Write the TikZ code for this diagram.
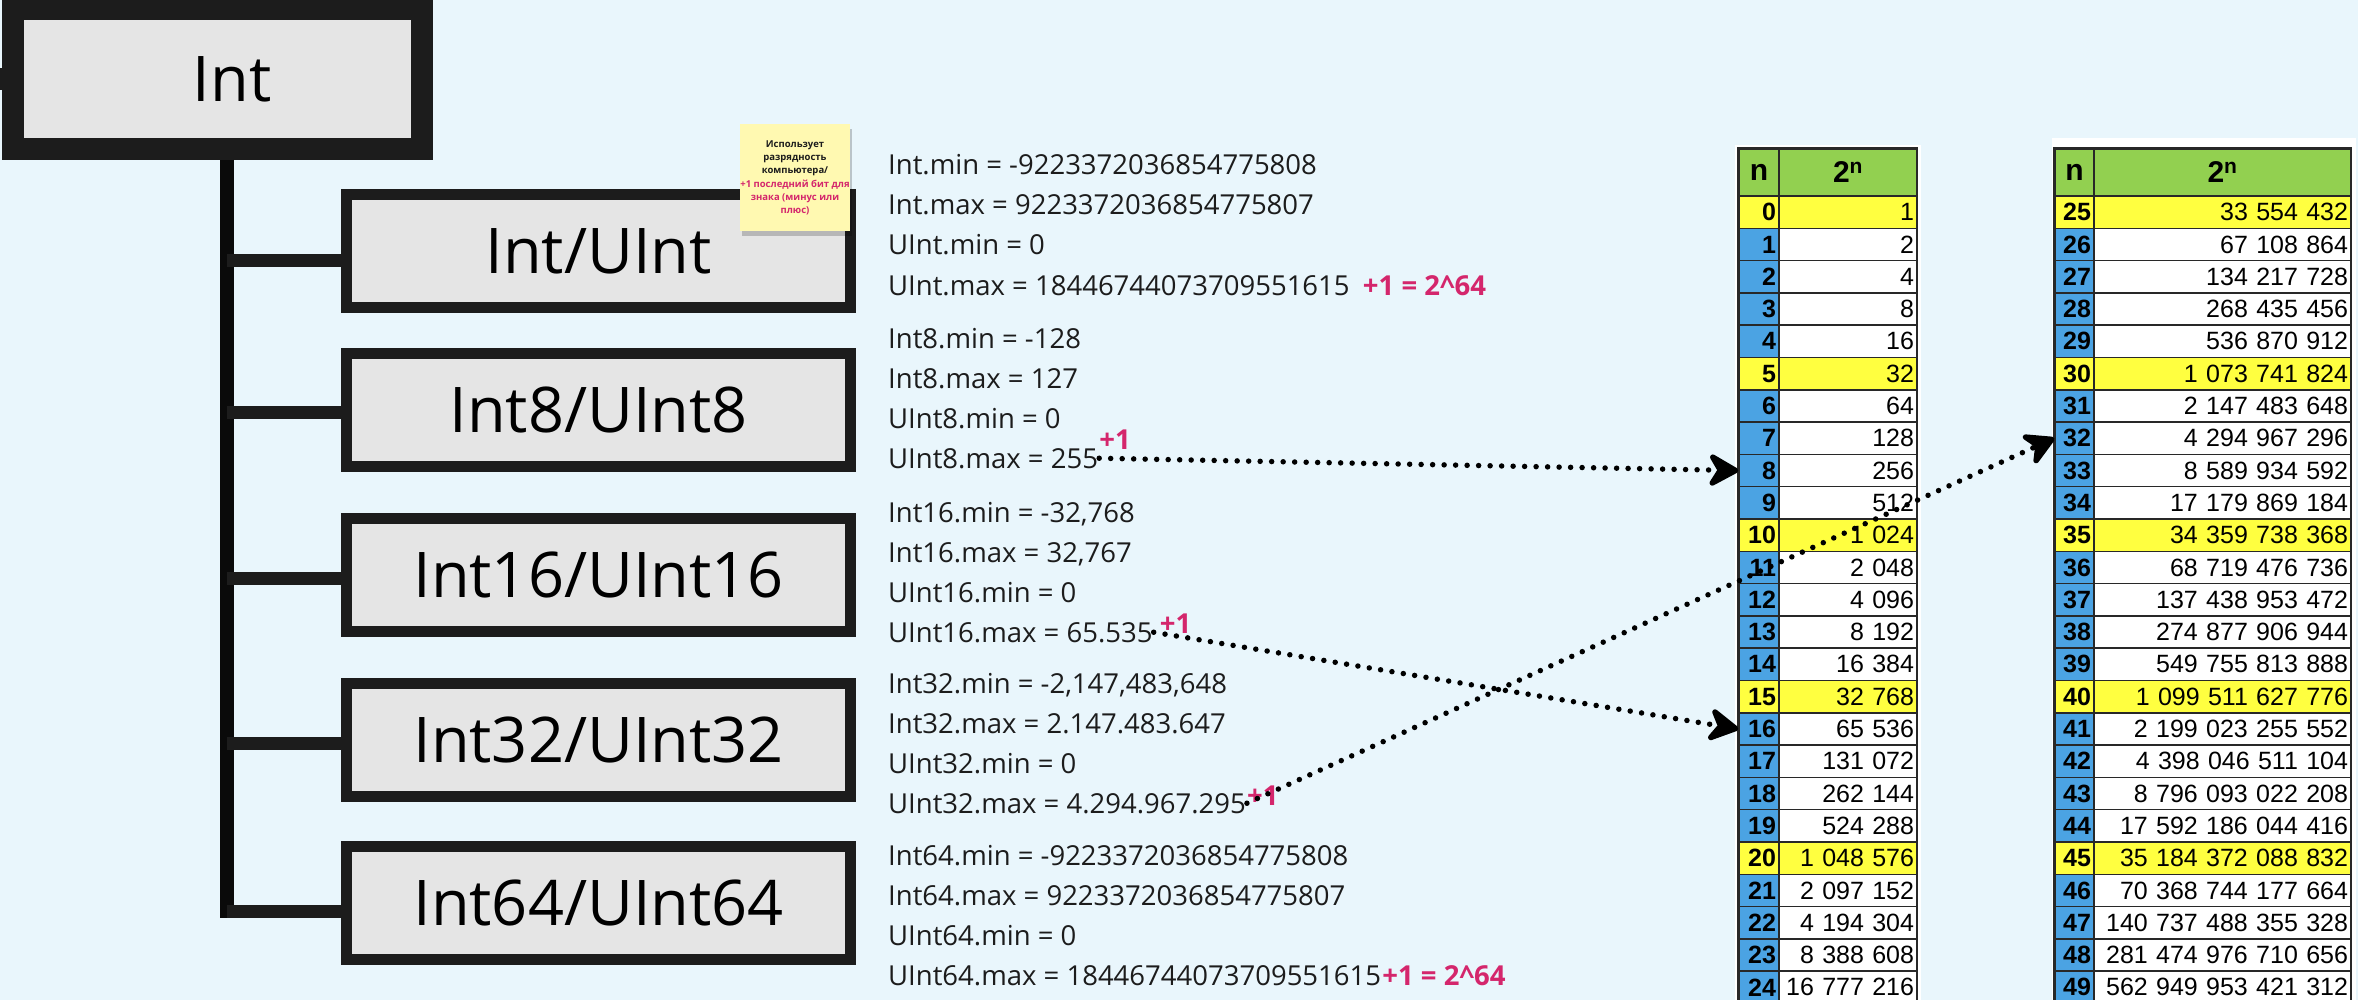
\documentclass[tikz,border=0pt]{standalone}
\usepackage{fontspec}
\setmainfont{Open Sans}
\newfontfamily\tabfont{Liberation Sans}
\usetikzlibrary{arrows.meta,calc,shadows}

\definecolor{bgc}{RGB}{233,246,252}
\definecolor{boxfill}{RGB}{229,229,229}
\definecolor{boxline}{RGB}{28,28,28}
\definecolor{plus}{RGB}{212,38,108}
\definecolor{note}{RGB}{255,249,177}
\definecolor{hgreen}{RGB}{146,208,80}
\definecolor{nblue}{RGB}{75,163,227}
\definecolor{ylw}{RGB}{255,255,64}
\definecolor{tabline}{RGB}{40,40,40}

\begin{document}
\begin{tikzpicture}[x=1pt,y=-1pt,
  root/.style={draw=boxline,fill=boxfill,line width=22pt,minimum width=409pt,
    minimum height=140pt,inner sep=0pt,font=\fontsize{63}{70}\selectfont},
  kind/.style={draw=boxline,fill=boxfill,line width=11pt,minimum width=504pt,
    minimum height=113pt,inner sep=0pt,font=\fontsize{63}{70}\selectfont},
  trunk/.style={draw=black!96,line width=14pt},
  branch/.style={draw=boxline,line width=13pt},
  vals/.style={anchor=base west,inner sep=1pt,text=boxline,font=\fontsize{27.5}{32}\selectfont},
  plusone/.style={anchor=base west,inner sep=0pt,text=plus,font=\bfseries\fontsize{27.5}{32}\selectfont},
  sticky/.style={fill=note,minimum width=106pt,minimum height=107pt,align=center,
    inner sep=0pt,font=\bfseries\fontsize{9.5}{13.3}\selectfont,
    drop shadow={shadow xshift=2pt,shadow yshift=-5pt,opacity=.2,fill=black}},
  hcell/.style={draw=tabline,fill=hgreen,line width=1.5pt,minimum height=47pt,
    inner sep=0pt,font=\tabfont\bfseries\fontsize{30}{34}\selectfont},
  ncol/.style={draw=tabline,line width=1.5pt,minimum height=32.3pt,inner xsep=3pt,
    inner ysep=0pt,align=right,font=\tabfont\bfseries\fontsize{25}{30}\selectfont},
  vcol/.style={draw=tabline,line width=1.5pt,minimum height=32.3pt,inner xsep=3pt,
    inner ysep=0pt,align=right,font=\tabfont\fontsize{25}{30}\selectfont},
  carry/.style={line width=5.5pt,dash pattern=on 0pt off 11.5pt,line cap=round,
    -{Stealth[length=36pt,width=40pt,inset=12pt,round]}}]

  \useasboundingbox (0,0) rectangle (2358,1000);
  \fill[bgc] (0,0) rectangle (2358,1000);

  % tree
  \node[root] (int) at (217.5,79) {\hspace*{29pt}Int};
  \draw[boxline,line width=22pt] (int.west) -- ++(-10,0);
  \node[kind] (u) at (598.5,251) {Int/UInt};
  \node[kind] (u8) at (598.5,409.5) {Int8/UInt8};
  \node[kind] (u16) at (598.5,574.5) {Int16/UInt16};
  \node[kind] (u32) at (598.5,739.5) {Int32/UInt32};
  \node[kind] (u64) at (598.5,902.5) {Int64/UInt64};
  \coordinate (tb) at (227,918);
  \draw[trunk] (int.south -| tb) -- (tb);
  \foreach \b/\dy in {u/9.5,u8/2.5,u16/3.5,u32/3.5,u64/8.5}
    \draw[branch] ($(tb |- \b.west)+(0,\dy)$) -- ($(\b.west)+(0,\dy)$);

  \node[sticky] (memo) at (795,178) {\textcolor{boxline}{Использует}\\
    \textcolor{boxline}{разрядность}\\\textcolor{boxline}{компьютера/}\\
    \textcolor{plus}{+1 последний бит для}\\\textcolor{plus}{знака (минус или}\\
    \textcolor{plus}{плюс)}};

  % ranges
  \node[vals] (imin) at (887,175) {Int.min = -9223372036854775808};
  \node[vals] (imax) at (887,215) {Int.max = 9223372036854775807};
  \node[vals] (umin) at (887,255) {UInt.min = 0};
  \node[vals] (umax) at (887,295) {UInt.max = 18446744073709551615};
  \node[plusone] (p0) at ([xshift=12pt]umax.base east) {+1 = 2\textasciicircum64};

  \node[vals] (i8min) at (887,348) {Int8.min = -128};
  \node[vals] (i8max) at (887,388) {Int8.max = 127};
  \node[vals] (u8min) at (887,428) {UInt8.min = 0};
  \node[vals] (u8max) at (887,468) {UInt8.max = 255};
  \node[plusone] (p8) at ([yshift=19pt]u8max.base east) {+1};

  \node[vals] (i16min) at (887,522) {Int16.min = -32,768};
  \node[vals] (i16max) at (887,562) {Int16.max = 32,767};
  \node[vals] (u16min) at (887,602) {UInt16.min = 0};
  \node[vals] (u16max) at (887,642) {UInt16.max = 65.535};
  \node[plusone] (p16) at ([shift={(6pt,9pt)}]u16max.base east) {+1};

  \node[vals] (i32min) at (887,693) {Int32.min = -2,147,483,648};
  \node[vals] (i32max) at (887,733) {Int32.max = 2.147.483.647};
  \node[vals] (u32min) at (887,773) {UInt32.min = 0};
  \node[vals] (u32max) at (887,813) {UInt32.max = 4.294.967.295};
  \node[plusone] (p32) at ([yshift=8pt]u32max.base east) {+1};

  \node[vals] (i64min) at (887,865) {Int64.min = -9223372036854775808};
  \node[vals] (i64max) at (887,905) {Int64.max = 9223372036854775807};
  \node[vals] (u64min) at (887,945) {UInt64.min = 0};
  \node[vals] (u64max) at (887,985) {UInt64.max = 18446744073709551615};
  \node[plusone] (p64) at (u64max.base east) {+1 = 2\textasciicircum64};

  % powers of two
  \fill[white] (1735,145) rectangle (1921,1000);
  \fill[white] (2052,138) rectangle (2356,1000);
  \node[hcell,minimum width=40pt] (hn1) at (1759,172.5) {n};
  \node[hcell,minimum width=138pt] (hp1) at (1848,172.5) {2\textsuperscript{n}};
  \node[hcell,minimum width=39pt] (hn2) at (2074.5,172.5) {n};
  \node[hcell,minimum width=257pt] (hp2) at (2222.5,172.5) {2\textsuperscript{n}};
  \foreach \i/\v in {0/1,1/2,2/4,3/8,4/16,5/32,6/64,7/128,8/256,9/512,10/1 024,
      11/2 048,12/4 096,13/8 192,14/16 384,15/32 768,16/65 536,17/131 072,
      18/262 144,19/524 288,20/1 048 576,21/2 097 152,22/4 194 304,
      23/8 388 608,24/16 777 216} {
    \pgfmathtruncatemacro\r{mod(\i,5)}
    \ifnum\r=0 \def\nc{ylw}\def\vc{ylw}\else\def\nc{nblue}\def\vc{white}\fi
    \node[ncol,fill=\nc,text width=34pt] (n\i) at (1759,{196+32.3*(\i+0.5)}) {\i};
    \node[vcol,fill=\vc,text width=132pt] (v\i) at (1848,{196+32.3*(\i+0.5)}) {\v};
  }
  \foreach \i/\v in {25/33 554 432,26/67 108 864,27/134 217 728,28/268 435 456,
      29/536 870 912,30/1 073 741 824,31/2 147 483 648,32/4 294 967 296,
      33/8 589 934 592,34/17 179 869 184,35/34 359 738 368,36/68 719 476 736,
      37/137 438 953 472,38/274 877 906 944,39/549 755 813 888,
      40/1 099 511 627 776,41/2 199 023 255 552,42/4 398 046 511 104,
      43/8 796 093 022 208,44/17 592 186 044 416,45/35 184 372 088 832,
      46/70 368 744 177 664,47/140 737 488 355 328,48/281 474 976 710 656,
      49/562 949 953 421 312} {
    \pgfmathtruncatemacro\r{mod(\i,5)}
    \ifnum\r=0 \def\nc{ylw}\def\vc{ylw}\else\def\nc{nblue}\def\vc{white}\fi
    \node[ncol,fill=\nc,text width=33pt] (n\i) at (2074.5,{196+32.3*(\i-24.5)}) {\i};
    \node[vcol,fill=\vc,text width=251pt] (v\i) at (2222.5,{196+32.3*(\i-24.5)}) {\v};
  }
  \draw[tabline,line width=2.5pt] (hn1.north west) rectangle (1917,1010);
  \draw[tabline,line width=2.5pt] (hn2.north west) rectangle (2351,1010);

  % carries
  \draw[carry] (u8max.east) -- (n8.west);
  \draw[carry] (u16max.east) -- (n16.west);
  \draw[carry] (u32max.east) -- (n32.west);

\end{tikzpicture}
\end{document}
